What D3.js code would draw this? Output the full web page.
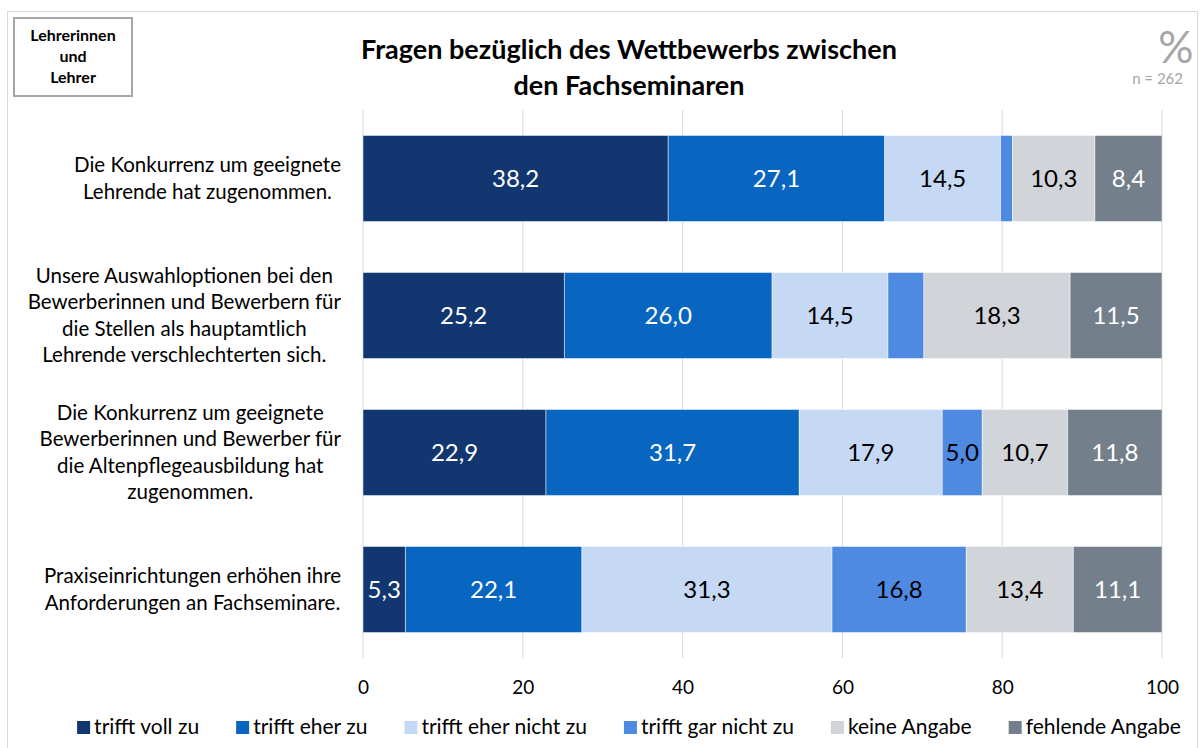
<!DOCTYPE html>
<html>
<head>
<meta charset="utf-8">
<script src="https://cdn.jsdelivr.net/npm/d3@7"></script>
<style>
  body { margin: 0; background: #fff; }
  svg text { font-family: Lato, "Noto Sans", sans-serif; }
</style>
</head>
<body>
<div id="chart"></div>
<script>
// categories (each label split into its lines)
const categories = [
  ["Die Konkurrenz um geeignete", "Lehrende hat zugenommen."],
  ["Unsere Auswahloptionen bei den", "Bewerberinnen und Bewerbern für", "die Stellen als hauptamtlich", "Lehrende verschlechterten sich."],
  ["Die Konkurrenz um geeignete", "Bewerberinnen und Bewerber für", "die Altenpflegeausbildung hat", "zugenommen."],
  ["Praxiseinrichtungen erhöhen ihre", "Anforderungen an Fachseminare."]
];

const seriesNames = ["trifft voll zu", "trifft eher zu", "trifft eher nicht zu", "trifft gar nicht zu", "keine Angabe", "fehlende Angabe"];

// one array per series, same order as categories
const trifftVoll      = [38.2, 25.2, 22.9, 5.3];
const trifftEher      = [27.1, 26.0, 31.7, 22.1];
const trifftEherNicht = [14.5, 14.5, 17.9, 31.3];
const trifftGarNicht  = [1.5, 4.5, 5.0, 16.8];
const keineAngabe     = [10.3, 18.3, 10.7, 13.4];
const fehlendeAngabe  = [8.4, 11.5, 11.8, 11.1];

// [series, category] pairs without a value label (as in the original)
const hiddenLabels = [[3, 0], [3, 1]];

const xTicks = [0, 20, 40, 60, 80, 100];

const colors = ["#12366f", "#0866c0", "#c5d8f4", "#4f8ae2", "#d1d4d9", "#747f8c"];
const labelColors = ["#fff", "#fff", "#000", "#000", "#000", "#fff"];

const width = 1200, height = 748;
const margin = {top: 110, right: 38, bottom: 90, left: 363};

const svg = d3.select("#chart").append("svg")
  .attr("width", width)
  .attr("height", height);

// outer frame
svg.append("rect")
  .attr("x", 7.5).attr("y", 11.5)
  .attr("width", 1190).attr("height", 760)
  .attr("fill", "none")
  .attr("stroke", "#d9d9d9");

// box top left
svg.append("rect")
  .attr("x", 14).attr("y", 18)
  .attr("width", 118).attr("height", 78)
  .attr("fill", "#fff")
  .attr("stroke", "#a6a6a6")
  .attr("stroke-width", 2);
const boxText = svg.append("text")
  .attr("text-anchor", "middle")
  .attr("font-size", 16)
  .attr("font-weight", "bold")
  .attr("fill", "#000");
["Lehrerinnen", "und", "Lehrer"].forEach((t, i) => {
  boxText.append("tspan").attr("x", 73).attr("y", 41 + i * 21).text(t);
});

// title
const title = svg.append("text")
  .attr("text-anchor", "middle")
  .attr("font-size", 27)
  .attr("font-weight", "bold")
  .attr("fill", "#000");
title.append("tspan").attr("x", 629).attr("y", 59).text("Fragen bezüglich des Wettbewerbs zwischen");
title.append("tspan").attr("x", 629).attr("y", 95).text("den Fachseminaren");

// percent sign and n
svg.append("text")
  .attr("x", 1176).attr("y", 63)
  .attr("text-anchor", "middle")
  .attr("font-size", 44)
  .attr("fill", "#a6a6a6")
  .text("%");
svg.append("text")
  .attr("x", 1183).attr("y", 84)
  .attr("text-anchor", "end")
  .attr("font-size", 15)
  .attr("fill", "#a6a6a6")
  .text("n = 262");

// scales
const innerW = width - margin.left - margin.right;
const x = d3.scaleLinear().domain([0, 100]).range([margin.left, margin.left + innerW]);
const y = d3.scaleBand()
  .domain(d3.range(categories.length))
  .range([margin.top, height - margin.bottom])
  .paddingInner(0.372)
  .paddingOuter(0.186);

// gridlines
svg.append("g")
  .selectAll("line")
  .data(xTicks)
  .join("line")
  .attr("x1", d => x(d)).attr("x2", d => x(d))
  .attr("y1", margin.top).attr("y2", height - margin.bottom)
  .attr("stroke", "#d9d9d9")
  .attr("stroke-width", 1);

// x axis labels
const xAxis = d3.axisBottom(x).tickValues(xTicks).tickSize(0).tickPadding(0).tickFormat(d3.format("d"));
const xAxisG = svg.append("g")
  .attr("transform", `translate(0,${height - margin.bottom})`)
  .call(xAxis);
xAxisG.select(".domain").remove();
xAxisG.selectAll("text")
  .attr("font-size", 19)
  .attr("fill", "#000")
  .attr("dy", 0)
  .attr("y", 36);

// stack data
const series = [trifftVoll, trifftEher, trifftEherNicht, trifftGarNicht, keineAngabe, fehlendeAngabe];
const rows = categories.map((c, i) => {
  const r = {idx: i};
  series.forEach((s, k) => r[k] = s[i]);
  return r;
});
const stacked = d3.stack().keys(d3.range(series.length))(rows);

const fmt = v => d3.format(".1f")(v).replace(".", ",");

const layers = svg.append("g")
  .selectAll("g")
  .data(stacked)
  .join("g")
  .attr("fill", (d, k) => colors[k]);

layers.selectAll("rect")
  .data(d => d)
  .join("rect")
  .attr("x", d => x(d[0]))
  .attr("y", d => y(d.data.idx))
  .attr("width", d => x(d[1]) - x(d[0]))
  .attr("height", y.bandwidth())
  .attr("stroke", "#fff")
  .attr("stroke-opacity", 0.6)
  .attr("stroke-width", 0.8);

const isHidden = (k, i) => hiddenLabels.some(h => h[0] === k && h[1] === i);

layers.each(function(layer, k) {
  d3.select(this).selectAll("text")
    .data(layer.filter(d => !isHidden(k, d.data.idx)))
    .join("text")
    .attr("x", d => (x(d[0]) + x(d[1])) / 2)
    .attr("y", d => y(d.data.idx) + y.bandwidth() / 2)
    .attr("dy", "0.35em")
    .attr("text-anchor", "middle")
    .attr("font-size", 24)
    .attr("fill", labelColors[k])
    .text(d => fmt(d[1] - d[0]));
});

// category labels: centered block, right edge near the plot
const labelRight = 341;
const lineH = 26.5;
categories.forEach((lines, i) => {
  const t = svg.append("text")
    .attr("font-size", 20.5)
    .attr("fill", "#000")
    .attr("text-anchor", "middle");
  const cy = y(i) + y.bandwidth() / 2;
  const tspans = lines.map((l, j) => t.append("tspan")
    .attr("y", cy + (j - (lines.length - 1) / 2) * lineH)
    .attr("dy", "0.35em")
    .text(l));
  const maxW = d3.max(tspans, s => s.node().getComputedTextLength());
  tspans.forEach(s => s.attr("x", labelRight - maxW / 2));
});

// legend
const legend = svg.append("g");
const items = legend.selectAll("g")
  .data(seriesNames)
  .join("g");
items.append("rect")
  .attr("width", 13).attr("height", 13)
  .attr("y", 721)
  .attr("fill", (d, k) => colors[k]);
items.append("text")
  .attr("x", 17)
  .attr("y", 734)
  .attr("font-size", 21)
  .attr("fill", "#000")
  .text(d => d);
const gap = 37;
let widths = [];
items.each(function() { widths.push(this.getBBox().width); });
const total = d3.sum(widths) + gap * (widths.length - 1);
let cx = 629 - total / 2;
items.each(function(d, k) {
  d3.select(this).attr("transform", `translate(${cx},0)`);
  cx += widths[k] + gap;
});
</script>
</body>
</html>
